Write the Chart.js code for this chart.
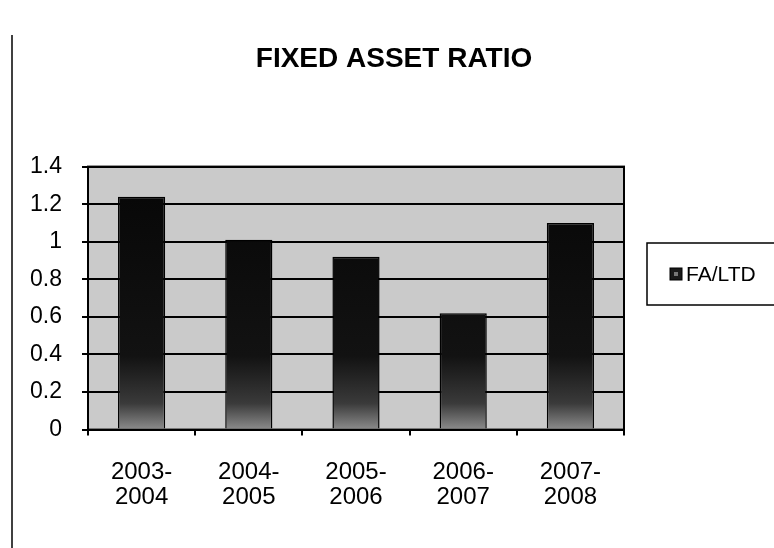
<!DOCTYPE html>
<html>
<head>
<meta charset="utf-8">
<script src="https://cdn.jsdelivr.net/npm/chart.js@4/dist/chart.umd.min.js"></script>
<style>
  html, body { margin: 0; padding: 0; background: #ffffff; }
  #wrap { width: 774px; height: 548px; position: relative; }
</style>
</head>
<body>
<div id="wrap"><canvas id="c" width="774" height="548"></canvas></div>
<script>
// ---- data ----
const categories = [["2003-", "2004"], ["2004-", "2005"], ["2005-", "2006"], ["2006-", "2007"], ["2007-", "2008"]];
const seriesName = "FA/LTD";
const faLtdValues = [1.24, 1.01, 0.92, 0.62, 1.10];
const yTicks = [0, 0.2, 0.4, 0.6, 0.8, 1, 1.2, 1.4];
const yTickLabels = ["0", "0.2", "0.4", "0.6", "0.8", "1", "1.2", "1.4"];
const chartTitle = "FIXED ASSET RATIO";

const FONT = "'Liberation Sans', Arial, sans-serif";

function barGradient(ctx) {
  const chart = ctx.chart;
  const area = chart.chartArea;
  if (!area) return '#111';
  const g = chart.ctx.createLinearGradient(0, area.top, 0, area.bottom);
  g.addColorStop(0, '#060606');
  g.addColorStop(0.72, '#121212');
  g.addColorStop(0.9, '#3a3a3a');
  g.addColorStop(1, '#8c8c8c');
  return g;
}

const decor = {
  id: 'decor',
  beforeDraw(chart) {
    const { ctx, chartArea: a } = chart;
    ctx.save();
    ctx.fillStyle = '#cacaca';
    ctx.fillRect(a.left, a.top, a.right - a.left, a.bottom - a.top);
    ctx.restore();
  },
  afterDraw(chart) {
    const { ctx, chartArea: a } = chart;
    ctx.save();
    ctx.strokeStyle = '#000';
    ctx.lineWidth = 2;
    ctx.strokeRect(a.left, a.top, a.right - a.left, a.bottom - a.top);
    // outer chart border (left edge visible in scan)
    ctx.lineWidth = 1.5;
    ctx.beginPath();
    ctx.moveTo(12, 35);
    ctx.lineTo(12, 548);
    ctx.stroke();
    // legend box
    const lx = 647, ly = 243, lw = 140, lh = 62;
    ctx.lineWidth = 1.5;
    ctx.strokeRect(lx, ly, lw, lh);
    // legend marker
    ctx.fillStyle = '#1a1a1a';
    ctx.fillRect(670, 268, 12, 12);
    ctx.strokeStyle = '#000';
    ctx.lineWidth = 1;
    ctx.strokeRect(670, 268, 12, 12);
    ctx.fillStyle = '#777';
    ctx.fillRect(674, 272, 4, 4);
    // legend text
    ctx.fillStyle = '#000';
    ctx.font = "21px " + FONT;
    ctx.textBaseline = 'middle';
    ctx.textAlign = 'left';
    ctx.fillText(chart.data.datasets[0].label, 686, 275);
    ctx.restore();
  }
};

new Chart(document.getElementById('c'), {
  type: 'bar',
  data: {
    labels: categories,
    datasets: [{
      label: seriesName,
      data: faLtdValues,
      backgroundColor: barGradient,
      borderColor: '#000',
      borderWidth: 1.5,
      barPercentage: 0.44,
      categoryPercentage: 1.0
    }]
  },
  options: {
    responsive: false,
    animation: false,
    devicePixelRatio: 1,
    layout: { padding: { left: 14, right: 0, top: 0, bottom: 14 } },
    plugins: {
      legend: { display: false },
      tooltip: { enabled: false },
      title: {
        display: true,
        text: chartTitle,
        color: '#000',
        font: { family: FONT, size: 28, weight: 'bold', lineHeight: 1.2 },
        padding: { top: 42, bottom: 91 }
      }
    },
    scales: {
      x: {
        offset: true,
        grid: { display: true, drawOnChartArea: false, drawTicks: true, tickLength: 6, color: '#000', lineWidth: 2, offset: true },
        border: { display: true, color: '#000', width: 2 },
        ticks: { color: '#000', padding: 24, font: { family: FONT, size: 24, lineHeight: 1.05 }, maxRotation: 0, autoSkip: false }
      },
      y: {
        min: 0,
        max: 1.4,
        afterBuildTicks(scale) { scale.ticks = yTicks.map(v => ({ value: v })); },
        afterFit(scale) { scale.width = 74; },
        grid: { color: '#000', lineWidth: 2, drawTicks: true, tickLength: 6 },
        border: { display: true, color: '#000', width: 2 },
        ticks: {
          color: '#000', padding: 20, font: { family: FONT, size: 23 },
          callback: (v) => { const i = yTicks.indexOf(v); return i >= 0 ? yTickLabels[i] : ''; }
        }
      },
      yRight: {
        position: 'right',
        display: true,
        grid: { display: false, drawTicks: false },
        border: { display: false },
        ticks: { display: false },
        afterFit(scale) { scale.width = 150; }
      }
    }
  },
  plugins: [decor]
});
</script>
</body>
</html>
